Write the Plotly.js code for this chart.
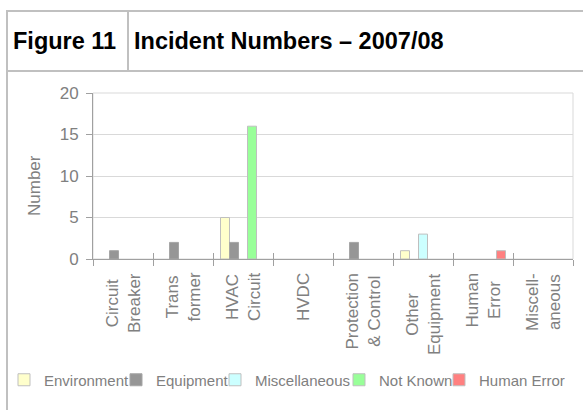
<!DOCTYPE html>
<html>
<head>
<meta charset="utf-8">
<script src="https://cdn.plot.ly/plotly-3.0.1.min.js"></script>
<style>
  html, body { margin: 0; padding: 0; background: #ffffff; }
  #chart { width: 583px; height: 410px; }
</style>
</head>
<body>
<div id="chart"></div>
<script>
// ---- data ----
const categories = ['Circuit Breaker', 'Transformer', 'HVAC Circuit', 'HVDC',
  'Protection & Control', 'Other Equipment', 'Human Error', 'Miscellaneous'];
const tickLabels = ['Circuit<br>Breaker', 'Trans<br>former', 'HVAC<br>Circuit', 'HVDC',
  'Protection<br>& Control', 'Other<br>Equipment', 'Human<br>Error', 'Miscell-<br>aneous'];
const seriesNames = ['Environment', 'Equipment', 'Miscellaneous', 'Not Known', 'Human Error'];
// null = no bar drawn for that category
const environment   = [null, null, 5, null, null, 1, null, null];
const equipment     = [1, 2, 2, null, 2, null, null, null];
const miscellaneous = [null, null, null, null, null, 3, null, null];
const notKnown      = [null, null, 16, null, null, null, null, null];
const humanError    = [null, null, null, null, null, null, 1, null];
const yTicks = [0, 5, 10, 15, 20];
const figureLabel = 'Figure 11';
const chartTitle = 'Incident Numbers – 2007/08';
const yTitle = 'Number';

// ---- layout helpers (pixel -> paper) ----
const W = 583, H = 410;
const PL = 93, PR = 573, PT = 93, PB = 259;
const px2x = p => (p - PL) / (PR - PL);
const py2y = p => (PB - p) / (PB - PT);

const FONT = 'Liberation Sans, Arial, sans-serif';
const GRAY = '#808080';
const FRAME = '#c0c0c0';

const seriesValues = [environment, equipment, miscellaneous, notKnown, humanError];
const fills = ['#FFFFCC', '#969696', '#CCFFFF', '#99FF99', '#FF8080'];
const outlines = ['#bfbfbf', '#a6a6a6', '#bfbfbf', '#bfbfbf', '#bfbfbf'];
const legendTextStart = [43, 155, 254, 378, 478];

const traces = seriesNames.map((name, i) => ({
  type: 'bar',
  name: name,
  x: categories,
  y: seriesValues[i],
  marker: { color: fills[i], line: { color: outlines[i], width: 1 } },
  legend: i === 0 ? 'legend' : 'legend' + (i + 1),
  showlegend: true,
  hoverinfo: 'skip'
}));
// helper trace so the overlay axis (inner half of crossing ticks) gets drawn
traces.push({ type: 'scatter', x: [], y: [], xaxis: 'x2', yaxis: 'y', showlegend: false, hoverinfo: 'skip' });

const layout = {
  width: W, height: H,
  margin: { l: PL, r: W - PR, t: PT, b: H - PB, pad: 0, autoexpand: false },
  paper_bgcolor: '#ffffff',
  plot_bgcolor: '#ffffff',
  font: { family: FONT, color: GRAY, size: 17 },
  showlegend: true,
  barmode: 'group',
  bargap: 0.25,
  bargroupgap: 0,
  title: {
    text: '<b>' + chartTitle + '</b>',
    font: { family: FONT, size: 23.5, color: '#000000' },
    xref: 'container', yref: 'container',
    x: 134 / W, xanchor: 'left',
    y: (H - 41) / H, yanchor: 'middle'
  },
  xaxis: {
    type: 'category',
    categoryorder: 'array', categoryarray: categories,
    range: [-0.5, categories.length - 0.5],
    showticklabels: false,
    ticks: 'outside', tickson: 'boundaries', ticklen: 6, tickcolor: '#a0a0a0', tickwidth: 1,
    showline: true, linecolor: '#a0a0a0', linewidth: 1,
    showgrid: false, zeroline: false, fixedrange: true
  },
  xaxis2: {
    overlaying: 'x', anchor: 'y', side: 'bottom',
    range: [-0.5, categories.length - 0.5],
    tickmode: 'array', tickvals: categories.map((c, i) => i - 0.5).concat([categories.length - 0.5]),
    ticks: 'inside', ticklen: 6, tickcolor: '#a0a0a0', tickwidth: 1,
    showticklabels: false, showgrid: false, zeroline: false, showline: false, fixedrange: true
  },
  yaxis: {
    range: [0, 20],
    tickmode: 'array', tickvals: yTicks, ticktext: yTicks.map(String),
    tickfont: { size: 17, color: GRAY, family: FONT },
    ticks: 'outside', ticklen: 6, tickcolor: '#a0a0a0', tickwidth: 1,
    ticklabelstandoff: 4,
    showline: true, linecolor: '#a0a0a0', linewidth: 1,
    showgrid: true, gridcolor: '#d9d9d9', gridwidth: 1,
    zeroline: false, fixedrange: true
  },
  shapes: [
    // plot area frame
    { type: 'rect', xref: 'paper', yref: 'paper', x0: 0, x1: 1, y0: 0, y1: 1,
      line: { color: '#d9d9d9', width: 1 }, layer: 'below' },
    // figure frame (header table)
    { type: 'line', xref: 'paper', yref: 'paper', x0: px2x(6), x1: px2x(584), y0: py2y(11), y1: py2y(11),
      line: { color: FRAME, width: 2 } },
    { type: 'line', xref: 'paper', yref: 'paper', x0: px2x(6), x1: px2x(584), y0: py2y(71), y1: py2y(71),
      line: { color: FRAME, width: 2 } },
    { type: 'line', xref: 'paper', yref: 'paper', x0: px2x(7), x1: px2x(7), y0: py2y(10), y1: py2y(411),
      line: { color: FRAME, width: 2 } },
    { type: 'line', xref: 'paper', yref: 'paper', x0: px2x(128), x1: px2x(128), y0: py2y(11), y1: py2y(71),
      line: { color: FRAME, width: 2 } }
  ],
  annotations: [
    { text: '<b>' + figureLabel + '</b>', xref: 'paper', yref: 'paper',
      x: px2x(11), xanchor: 'left', y: py2y(41), yanchor: 'middle',
      showarrow: false, font: { family: FONT, size: 23.5, color: '#000000' } },
    { text: yTitle, xref: 'paper', yref: 'paper', textangle: -90,
      x: px2x(34), xanchor: 'center', y: py2y(186), yanchor: 'middle',
      showarrow: false, font: { family: FONT, size: 17, color: GRAY } }
  ].concat(categories.map((c, i) => ({
    text: tickLabels[i], xref: 'x', x: c, yref: 'paper', y: py2y(271),
    xanchor: 'center', yanchor: 'top', textangle: -90, align: 'center',
    showarrow: false, font: { family: FONT, size: 17, color: GRAY }
  })))
};

seriesNames.forEach((n, i) => {
  const key = i === 0 ? 'legend' : 'legend' + (i + 1);
  layout[key] = {
    visible: true,
    orientation: 'h',
    x: px2x(legendTextStart[i] - 39), xanchor: 'left', xref: 'paper',
    y: py2y(380), yanchor: 'middle', yref: 'paper',
    font: { family: FONT, size: 15, color: GRAY },
    bgcolor: 'rgba(0,0,0,0)', borderwidth: 0, itemwidth: 30,
    itemclick: false, itemdoubleclick: false
  };
});

Plotly.newPlot('chart', traces, layout, { displayModeBar: false, staticPlot: true });
</script>
</body>
</html>
